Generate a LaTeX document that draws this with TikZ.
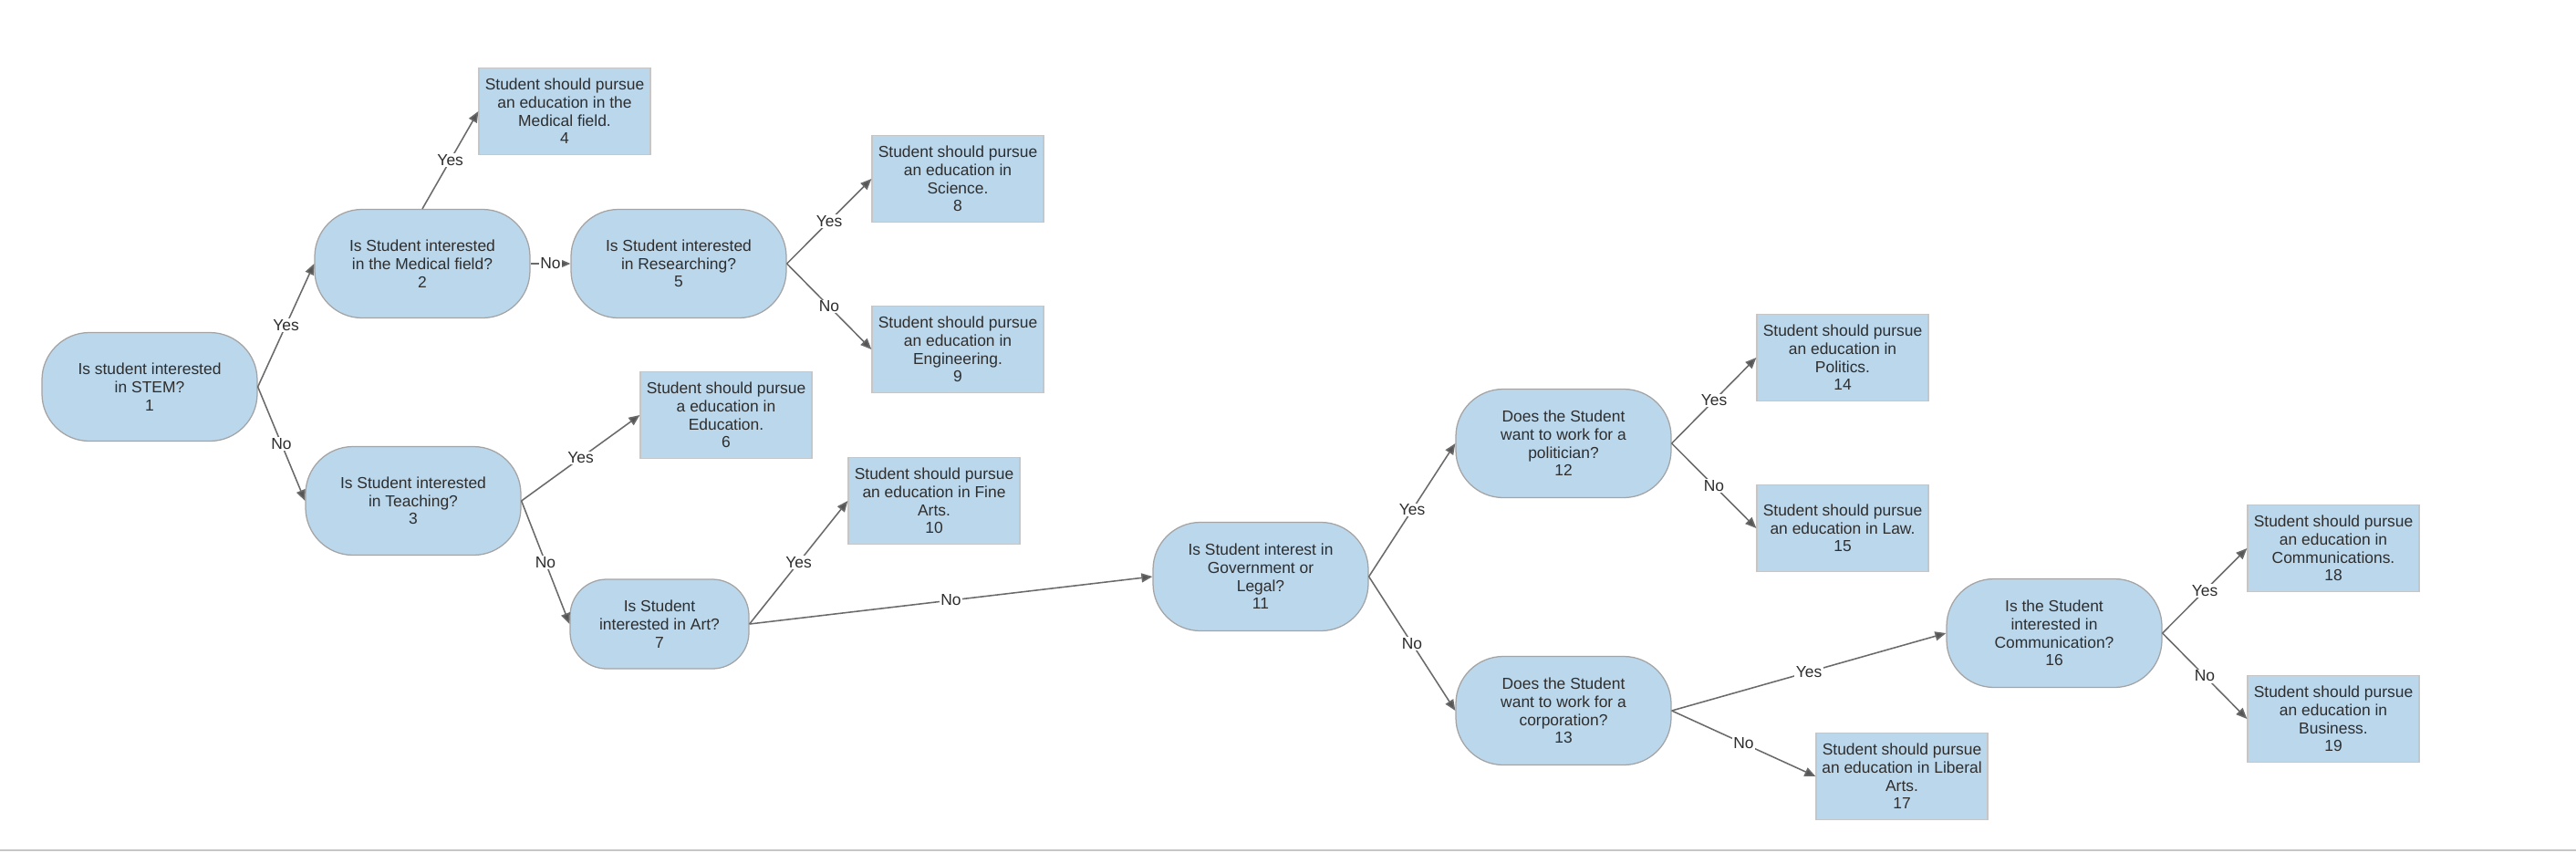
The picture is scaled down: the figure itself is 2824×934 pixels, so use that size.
\documentclass[tikz,border=0pt]{standalone}
\usepackage{fontspec}
\setmainfont{Liberation Sans}
\usepackage{tikz}
\usetikzlibrary{arrows.meta}
\definecolor{boxblue}{HTML}{BBD7EC}
\definecolor{qedge}{HTML}{A4A4A4}
\definecolor{redge}{HTML}{C6C6C6}
\definecolor{wire}{HTML}{6A6A6A}
\definecolor{tip}{HTML}{555555}
\definecolor{ink}{HTML}{2E2E2E}

\begin{document}
\begin{tikzpicture}[x=0.25mm,y=-0.25mm,
		every node/.style={font=\fontsize{12.4}{14}\selectfont, text=ink, align=center},
		question/.style={draw=qedge, line width=0.9pt, fill=boxblue, rounded corners=13mm, minimum width=59mm, minimum height=29.75mm, inner sep=1mm},
		answer/.style={draw=redge, line width=0.9pt, fill=boxblue, minimum width=47mm, minimum height=23.75mm, inner sep=0.8mm},
		link/.style={draw=wire, line width=1.1pt, -{Triangle[length=3mm,width=2.5mm,fill=tip]}},
		lbl/.style={fill=white, inner sep=1pt, pos=0.5}]
		\useasboundingbox (0,0) rectangle (2824,934);
		\draw[redge, line width=0.5mm] (0,932) -- (2824,932);
		
		\node[question] (q1) at (164,424) {Is student interested\\in STEM?\\1};
		\node[question] (q2) at (463,289) {Is Student interested\\in the Medical field?\\2};
		\node[question] (q3) at (453,549) {Is Student interested\\in Teaching?\\3};
		\node[answer] (r4) at (619,122) {Student should pursue\\an education in the\\Medical field.\\4};
		\node[question] (q5) at (744,289) {Is Student interested\\in Researching?\\5};
		\node[answer] (r6) at (796,455) {Student should pursue\\a education in\\Education.\\6};
		\node[question, minimum width=49mm, minimum height=24.5mm, rounded corners=10mm] (q7) at (723,684) {Is Student\\interested in Art?\\7};
		\node[answer] (r8) at (1050,196) {Student should pursue\\an education in\\Science.\\8};
		\node[answer] (r9) at (1050,383) {Student should pursue\\an education in\\Engineering.\\9};
		\node[answer] (r10) at (1024,549) {Student should pursue\\an education in Fine\\Arts.\\10};
		\node[question] (q11) at (1382,632) {Is Student interest in\\Government or\\Legal?\\11};
		\node[question] (q12) at (1714,486) {Does the Student\\want to work for a\\politician?\\12};
		\node[question] (q13) at (1714,779) {Does the Student\\want to work for a\\corporation?\\13};
		\node[answer] (r14) at (2020,392) {Student should pursue\\an education in\\Politics.\\14};
		\node[answer] (r15) at (2020,579) {Student should pursue\\an education in Law.\\15};
		\node[question] (q16) at (2252,694) {Is the Student\\interested in\\Communication?\\16};
		\node[answer] (r17) at (2085,851) {Student should pursue\\an education in Liberal\\Arts.\\17};
		\node[answer] (r18) at (2558,601) {Student should pursue\\an education in\\Communications.\\18};
		\node[answer] (r19) at (2558,788) {Student should pursue\\an education in\\Business.\\19};
		
		\draw[link] (q1.east) -- (q2.west) node[lbl]{Yes};
		\draw[link] (q1.east) -- (q3.west) node[lbl]{No};
		\draw[link] (q2.north) -- (r4.west) node[lbl]{Yes};
		\draw[link] (q2.east) -- (q5.west) node[lbl]{No};
		\draw[link] (q5.east) -- (r8.west) node[lbl]{Yes};
		\draw[link] (q5.east) -- (r9.west) node[lbl]{No};
		\draw[link] (q3.east) -- (r6.west) node[lbl]{Yes};
		\draw[link] (q3.east) -- (q7.west) node[lbl]{No};
		\draw[link] (q7.east) -- (r10.west) node[lbl]{Yes};
		\draw[link] (q7.east) -- (q11.west) node[lbl]{No};
		\draw[link] (q11.east) -- (q12.west) node[lbl]{Yes};
		\draw[link] (q11.east) -- (q13.west) node[lbl]{No};
		\draw[link] (q12.east) -- (r14.west) node[lbl]{Yes};
		\draw[link] (q12.east) -- (r15.west) node[lbl]{No};
		\draw[link] (q13.east) -- (q16.west) node[lbl]{Yes};
		\draw[link] (q13.east) -- (r17.west) node[lbl]{No};
		\draw[link] (q16.east) -- (r18.west) node[lbl]{Yes};
		\draw[link] (q16.east) -- (r19.west) node[lbl]{No};
	\end{tikzpicture}
\end{document}
